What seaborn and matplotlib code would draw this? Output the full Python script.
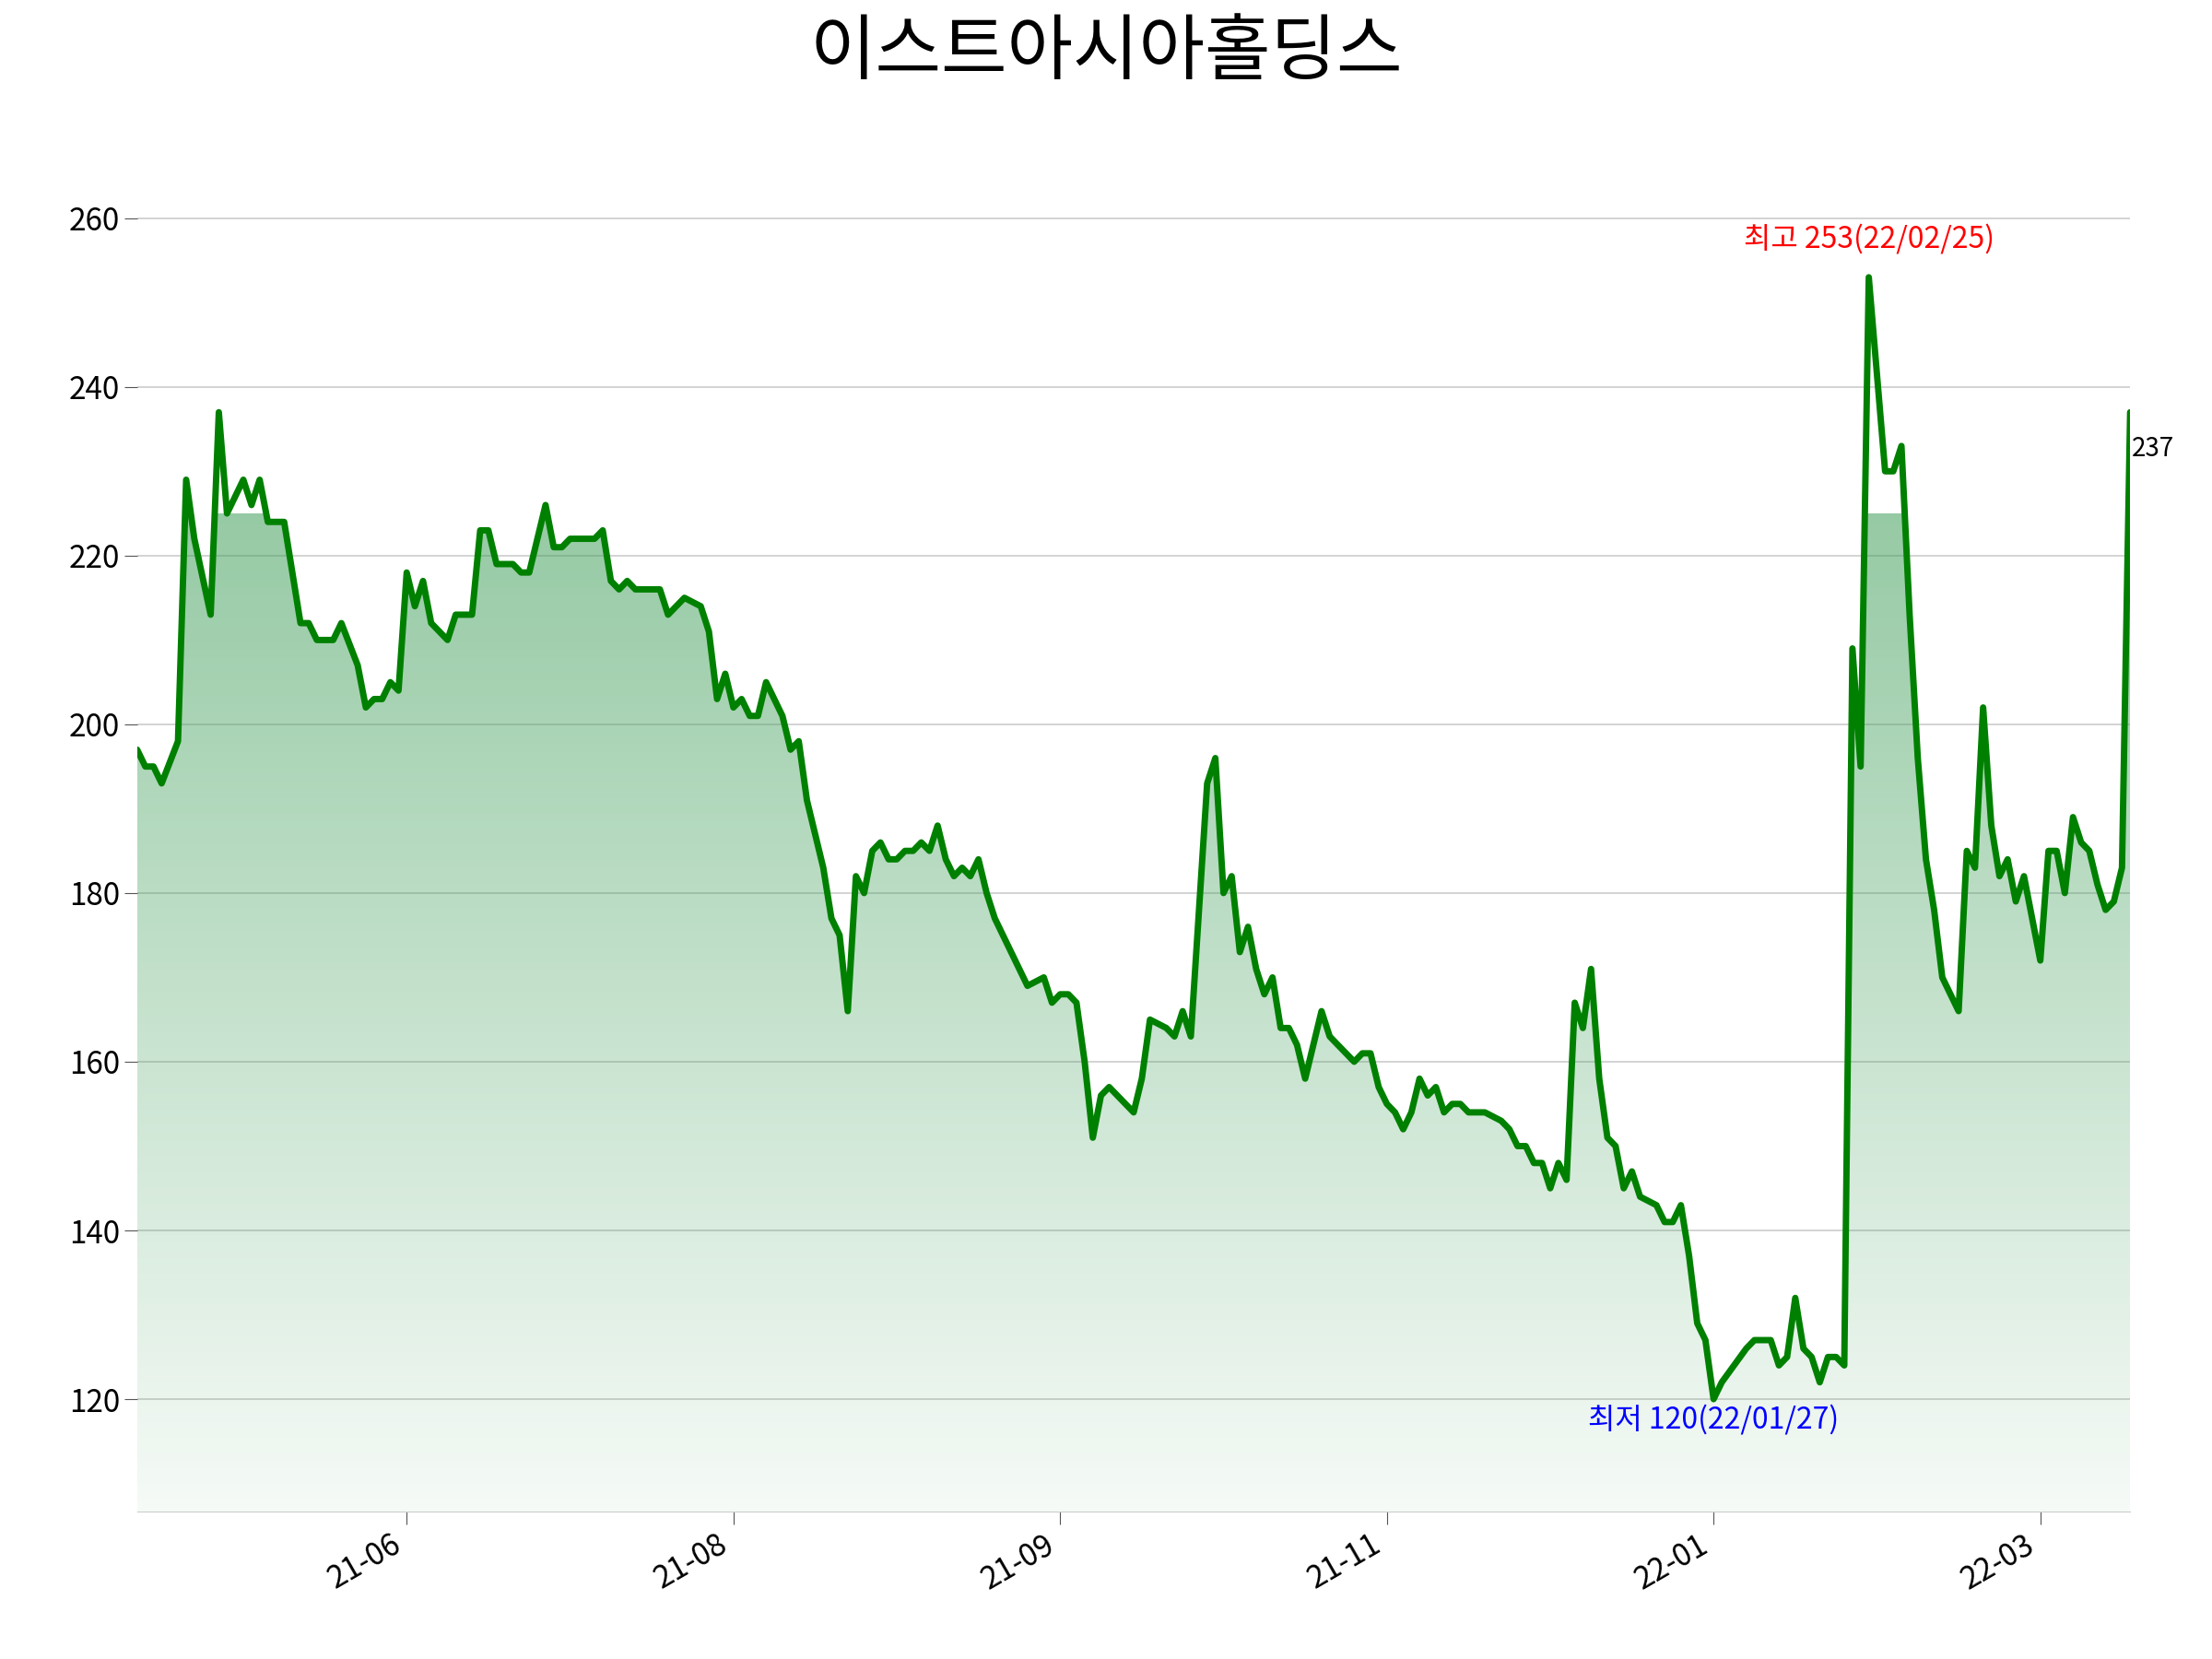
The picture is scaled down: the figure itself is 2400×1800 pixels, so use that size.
import numpy as np
import pandas as pd
import matplotlib.pyplot as plt
import seaborn as sns

# trading session number and close price
session = [0, 1, 2, 3, 5, 6, 7, 9, 10, 11, 13, 14, 15, 16, 18, 19, 20, 21, 22, 24,
           25, 27, 28, 29, 30, 31, 32, 33, 34, 35, 36, 38, 39, 41, 42, 43, 44, 46, 47, 48,
           50, 51, 52, 53, 56, 57, 58, 59, 60, 61, 64, 65, 66, 67, 69, 70, 71, 72, 73, 74,
           75, 76, 77, 79, 80, 81, 82, 84, 85, 86, 87, 88, 89, 90, 91, 92, 93, 94, 95, 96,
           97, 98, 99, 100, 101, 102, 103, 104, 105, 108, 109, 111, 112, 113, 114, 115, 116, 117, 118, 119,
           121, 122, 123, 124, 126, 127, 128, 129, 130, 131, 132, 133, 134, 135, 136, 137, 138, 139, 140, 141,
           142, 143, 144, 145, 146, 147, 148, 149, 150, 151, 152, 153, 154, 155, 156, 157, 158, 159, 160, 161,
           162, 163, 165, 167, 168, 169, 170, 171, 172, 173, 174, 175, 176, 177, 178, 179, 180, 181, 182, 183,
           184, 186, 187, 188, 189, 190, 191, 192, 193, 194, 197, 198, 200, 201, 202, 203, 204, 205, 206, 207,
           208, 209, 210, 211, 212, 214, 215, 216, 217, 218, 219, 220, 221, 223, 224, 225, 226, 227, 228, 229,
           230, 231, 232, 233, 234, 235, 236, 237, 238, 239, 240, 241, 242, 243, 244]
close = [197, 195, 195, 193, 198, 229, 222, 213, 237, 225, 229, 226, 229, 224, 224, 218, 212, 212, 210, 210,
         212, 207, 202, 203, 203, 205, 204, 218, 214, 217, 212, 210, 213, 213, 223, 223, 219, 219, 218, 218,
         226, 221, 221, 222, 222, 223, 217, 216, 217, 216, 216, 213, 214, 215, 214, 211, 203, 206, 202, 203,
         201, 201, 205, 201, 197, 198, 191, 183, 177, 175, 166, 182, 180, 185, 186, 184, 184, 185, 185, 186,
         185, 188, 184, 182, 183, 182, 184, 180, 177, 171, 169, 170, 167, 168, 168, 167, 160, 151, 156, 157,
         155, 154, 158, 165, 164, 163, 166, 163, 178, 193, 196, 180, 182, 173, 176, 171, 168, 170, 164, 164,
         162, 158, 162, 166, 163, 162, 161, 160, 161, 161, 157, 155, 154, 152, 154, 158, 156, 157, 154, 155,
         155, 154, 154, 153, 152, 150, 150, 148, 148, 145, 148, 146, 167, 164, 171, 158, 151, 150, 145, 147,
         144, 143, 141, 141, 143, 137, 129, 127, 120, 122, 126, 127, 127, 124, 125, 132, 126, 125, 122, 125,
         125, 124, 209, 195, 253, 230, 230, 233, 213, 196, 184, 178, 170, 166, 185, 183, 202, 188, 182, 184,
         179, 182, 177, 172, 185, 185, 180, 189, 186, 185, 181, 178, 179, 183, 237]

tick_pos = [33, 73, 113, 153, 193, 233]
tick_labels = ["21-06", "21-08", "21-09", "21-11", "22-01", "22-03"]
title = "이스트아시아홀딩스"
high_text = "최고 253(22/02/25)"
low_text = "최저 120(22/01/27)"

df = pd.DataFrame({"session": session, "close": close})

sns.set_style("white")
plt.rcParams["font.family"] = ["Noto Sans CJK KR", "DejaVu Sans"]

fig = plt.figure(figsize=(24, 18), dpi=100)
ax = fig.add_axes([0.062, 0.089, 0.901, 0.812])

ymin, ymax = 106.7, 266.4
ax.set_ylim(ymin, ymax)
ax.set_xlim(df.session.min(), df.session.max())

# gradient fill under the line
grad = np.linspace(0.05, 0.55, 256).reshape(-1, 1)
rgba = np.zeros((256, 1, 4))
rgba[..., 0] = 0.25
rgba[..., 1] = 0.62
rgba[..., 2] = 0.35
rgba[..., 3] = grad
img = ax.imshow(rgba, aspect="auto", origin="lower",
                extent=[df.session.min(), df.session.max(), ymin, 225], zorder=1)
poly = ax.fill_between(df.session, df.close, ymin, color="none")
img.set_clip_path(poly.get_paths()[0], transform=ax.transData)

sns.lineplot(data=df, x="session", y="close", color="green", linewidth=5, ax=ax, zorder=3)

ax.set_yticks(range(120, 261, 20))
ax.yaxis.grid(True, color="#cccccc", linewidth=1.2)
ax.set_xticks(tick_pos)
ax.set_xticklabels(tick_labels, rotation=30, ha="right")
ax.tick_params(axis="both", labelsize=24, length=10, color="#555555", left=True, bottom=True,
               labelcolor="black")
ax.set_xlabel("")
ax.set_ylabel("")
for s in ["top", "right", "left"]:
    ax.spines[s].set_visible(False)
ax.spines["bottom"].set_color("#cccccc")

imax = int(np.argmax(close))
imin = int(np.argmin(close))
ax.annotate(high_text, (session[imax], close[imax]), xytext=(0, 18), textcoords="offset points",
            ha="center", va="bottom", color="red", fontsize=23)
ax.annotate(low_text, (session[imin], close[imin]), xytext=(0, -4), textcoords="offset points",
            ha="center", va="top", color="blue", fontsize=23)
ax.annotate(str(close[-1]), (session[-1], close[-1]), xytext=(1, -18), textcoords="offset points",
            ha="left", va="top", color="black", fontsize=20)

fig.suptitle(title, fontsize=56, y=0.99, color="black")
fig.savefig("out.png", dpi=100)
